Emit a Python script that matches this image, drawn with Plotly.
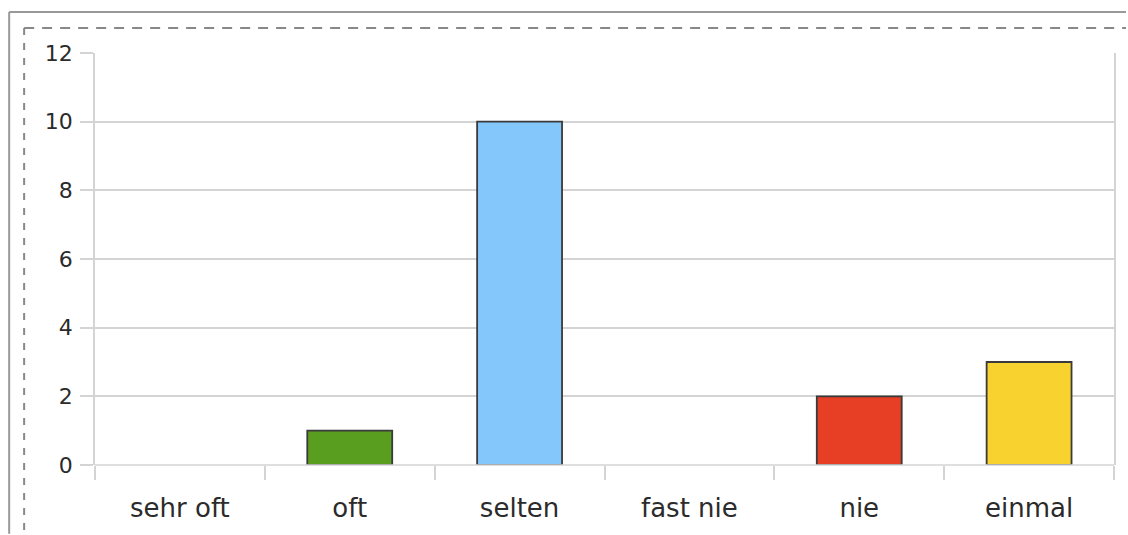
import plotly.graph_objects as go

categories = ["sehr oft", "oft", "selten", "fast nie", "nie", "einmal"]
values = [0, 1, 10, 0, 2, 3]
colors = ["#5a9e1f", "#5a9e1f", "#83c7fb", "#83c7fb", "#e63f25", "#f8d22e"]
y_ticks = [0, 2, 4, 6, 8, 10, 12]

W, H = 1128, 535
L, R, T, B = 95, 12, 53, 69
pw, ph = W - L - R, H - T - B

def px_x(px):
    return (px - L) / pw

def px_y(py):
    return (H - B - py) / ph

line_w = [0 if v == 0 else 1.8 for v in values]

fig = go.Figure(go.Bar(
    x=categories, y=values, width=0.5,
    marker=dict(color=colors, line=dict(color="#3a3a3a", width=line_w)),
))

grid = "#d4d4d4"
txt = "#2b2b2b"
fig.update_layout(
    width=W, height=H,
    margin=dict(l=L, r=R, t=T, b=B),
    plot_bgcolor="white", paper_bgcolor="white",
    showlegend=False,
    font=dict(family="DejaVu Sans, Liberation Sans, sans-serif", color=txt),
    xaxis=dict(
        type="category", tickson="boundaries", ticks="outside", ticklen=14,
        tickcolor=grid, tickwidth=1.5, showgrid=False, showline=False,
        tickfont=dict(size=26, color=txt), ticklabelstandoff=25,
        range=[-0.5, 5.5],
    ),
    yaxis=dict(
        range=[0, 12], tickvals=y_ticks, ticks="outside", ticklen=13,
        tickcolor=grid, tickwidth=1.5, gridcolor=grid, gridwidth=1.5,
        showline=True, linecolor=grid, linewidth=1.5, mirror=True,
        zeroline=False, tickfont=dict(size=22, color=txt),
        ticklabelstandoff=3,
    ),
    shapes=[
        dict(type="line", xref="paper", yref="paper",
             x0=px_x(9), x1=px_x(1128), y0=px_y(12), y1=px_y(12),
             line=dict(color="#999999", width=2)),
        dict(type="line", xref="paper", yref="paper",
             x0=px_x(9), x1=px_x(9), y0=px_y(12), y1=px_y(535),
             line=dict(color="#999999", width=2)),
        dict(type="line", xref="paper", yref="paper",
             x0=px_x(24), x1=px_x(1128), y0=px_y(28), y1=px_y(28),
             line=dict(color="#888888", width=2, dash="10px,8px")),
        dict(type="line", xref="paper", yref="paper",
             x0=px_x(24), x1=px_x(24), y0=px_y(28), y1=px_y(535),
             line=dict(color="#888888", width=2, dash="7px,8px")),
        dict(type="line", xref="paper", yref="paper",
             x0=0, x1=1, y0=0, y1=0,
             line=dict(color=grid, width=1.5)),
    ],
)

fig.write_html(
    "out.html",
    config={"displayModeBar": False},
    post_script="document.body.style.margin='0';document.body.style.overflow='hidden';",
)
